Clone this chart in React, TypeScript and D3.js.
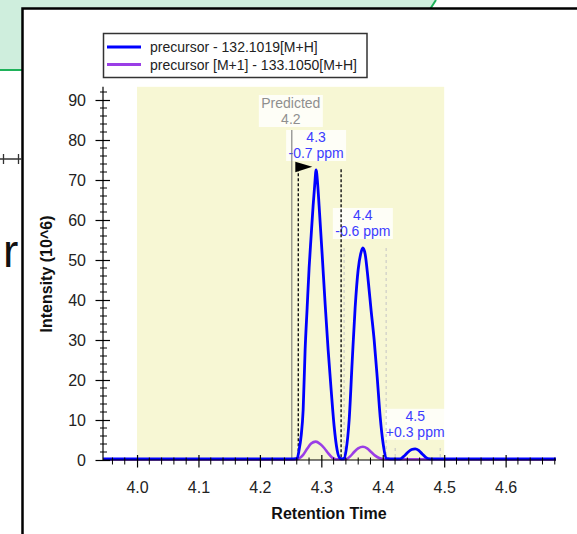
import { useEffect, useRef } from "react";
import * as d3 from "d3";

// chromatogram traces (retention time, intensity 10^6)
const blueTimes = [
  3.945, 4.255, 4.2606, 4.2638, 4.2671, 4.2704, 4.2736, 4.2769, 4.2801, 4.2834,
  4.2866, 4.2891, 4.2915, 4.294, 4.2964, 4.3013, 4.3062, 4.3111, 4.316, 4.3208,
  4.3257, 4.3306, 4.3339, 4.3371, 4.3404, 4.3453, 4.3502, 4.355, 4.3599, 4.364,
  4.3676, 4.3713, 4.3762, 4.3811, 4.386, 4.3909, 4.3958, 4.4007, 4.4055, 4.412,
  4.4283, 4.4349, 4.4414, 4.4471, 4.4528, 4.4585, 4.4642, 4.4691, 4.4739, 4.4805,
  4.682,
];
const blueValues = [
  0.3, 0.3, 0.4, 2.5, 6, 12.5, 27.5, 38, 48, 56,
  63.5, 68.5, 72.5, 69, 63.5, 51.5, 39, 27.5, 17.5, 8.5,
  2.5, 0.4, 0.3, 0.4, 2.5, 10, 24.5, 38, 47.5, 51.5,
  53, 51.5, 45, 37.3, 30, 20.8, 10.8, 4, 0.4, 0.3,
  0.3, 1.0, 2.0, 2.6, 2.8, 2.4, 1.5, 0.8, 0.35, 0.3,
  0.3,
];
const purpleTimes = [
  3.945, 4.258, 4.2638, 4.2704, 4.2769, 4.2834, 4.291, 4.2981, 4.3046, 4.3111,
  4.3176, 4.3241, 4.3404, 4.3469, 4.3534, 4.3599, 4.3676, 4.3746, 4.3811, 4.3876,
  4.3941, 4.4023, 4.682,
];
const purpleValues = [
  0.15, 0.15, 0.4, 1.3, 2.8, 4.1, 4.6, 4.0, 3.0, 1.7,
  0.6, 0.2, 0.2, 0.9, 2.0, 2.9, 3.3, 2.9, 2.0, 1.1,
  0.5, 0.2, 0.15,
];

const seriesNames = ["precursor - 132.1019[M+H]", "precursor [M+1] - 133.1050[M+H]"];
const seriesColors = ["#0000ff", "#9a3ee6"];

const xMajorTicks = [4.0, 4.1, 4.2, 4.3, 4.4, 4.5, 4.6];
const yMajorTicks = [0, 10, 20, 30, 40, 50, 60, 70, 80, 90];

// peak annotations
const peakTimes = [4.2915, 4.3676, 4.4528];
const peakValues = [72.5, 53, 2.8];
const peakRT = ["4.3", "4.4", "4.5"];
const peakPpm = ["-0.7 ppm", "-0.6 ppm", "+0.3 ppm"];

const integratedBounds = [4.2625, 4.3322];
const integratedTops = [74.2, 72.7];
const otherBounds = [4.3371, 4.4055, 4.4202, 4.4935];
const otherTops = [53, 53, 3, 3];

const predictedTime = 4.252;
const predictedLabel = ["Predicted", "4.2"];
const highlightRange = [4.0, 4.5];

const FONT = "'Liberation Sans', Arial, sans-serif";

export default function App() {
  const svgRef = useRef(null);

  useEffect(() => {
    const svg = d3.select(svgRef.current);
    svg.selectAll("*").remove();

    const x = d3.scaleLinear().domain([3.9446, 4.682]).range([103, 556]);
    const y = d3.scaleLinear().domain([0, 93.3]).range([460, 86.8]);

    // surrounding window bits
    svg.append("path")
      .attr("d", "M0,0 H436 L430.5,8.5 H22 V70 H0 Z")
      .attr("fill", "#cfeedd");
    svg.append("path").attr("d", "M0,70 H22").attr("stroke", "#1fb25a").attr("stroke-width", 2);
    svg.append("path").attr("d", "M436,0 L430.5,8.5").attr("stroke", "#1fb25a").attr("stroke-width", 2);
    svg.append("path").attr("d", "M22.5,534 V8.5 H577").attr("fill", "none")
      .attr("stroke", "#000").attr("stroke-width", 2.5);
    svg.append("path").attr("d", "M0,159 H22 M3.5,154 V164 M18.5,154 V164")
      .attr("stroke", "#333").attr("stroke-width", 1.3);
    svg.append("text").attr("x", 3).attr("y", 267).text("r")
      .style("font-family", FONT).style("font-size", "46px").attr("fill", "#111");

    // highlighted window
    svg.append("rect")
      .attr("x", x(highlightRange[0])).attr("y", y.range()[1])
      .attr("width", x(highlightRange[1]) - x(highlightRange[0]))
      .attr("height", y(0) - y.range()[1])
      .attr("fill", "#f7f7d4");

    // predicted label
    const px = x(predictedTime);
    svg.append("rect").attr("x", px - 33).attr("y", 95).attr("width", 64).attr("height", 32)
      .attr("fill", "#fff").attr("opacity", 0.8);
    predictedLabel.forEach((t, i) => {
      svg.append("text").attr("x", px - 1).attr("y", 103 + i * 15.5).attr("dy", "0.36em")
        .attr("text-anchor", "middle").text(t)
        .style("font-family", FONT).style("font-size", "14px").attr("fill", "#8f8f8f");
    });

    // peak labels
    peakTimes.forEach((t, i) => {
      const cx = x(t), cy = y(peakValues[i]);
      svg.append("rect").attr("x", cx - 30).attr("y", cy - 40).attr("width", 60).attr("height", 31)
        .attr("fill", "#fff").attr("opacity", 0.82);
      svg.append("text").attr("x", cx).attr("y", cy - 33).attr("dy", "0.36em")
        .attr("text-anchor", "middle").text(peakRT[i])
        .style("font-family", FONT).style("font-size", "14px").attr("fill", "#3c3cff");
      svg.append("text").attr("x", cx).attr("y", cy - 17).attr("dy", "0.36em")
        .attr("text-anchor", "middle").text(peakPpm[i])
        .style("font-family", FONT).style("font-size", "14px").attr("fill", "#3c3cff");
    });

    // predicted line
    svg.append("line").attr("x1", px).attr("x2", px).attr("y1", 130).attr("y2", y(0))
      .attr("stroke", "#6f6f6f").attr("stroke-width", 1);

    // boundaries of other peaks
    otherBounds.forEach((t, i) => {
      svg.append("line").attr("x1", x(t)).attr("x2", x(t)).attr("y1", y(otherTops[i])).attr("y2", y(0))
        .attr("stroke", "#c4c4c4").attr("stroke-width", 1).attr("stroke-dasharray", "3,3");
    });
    // integration boundaries
    integratedBounds.forEach((t, i) => {
      svg.append("line").attr("x1", x(t)).attr("x2", x(t)).attr("y1", y(integratedTops[i])).attr("y2", y(0))
        .attr("stroke", "#111").attr("stroke-width", 1.4).attr("stroke-dasharray", "3,2");
    });

    // traces
    const line = (times, values) => d3.line()
      .x((d, i) => x(times[i]))
      .y((d) => y(d))
      .curve(d3.curveMonotoneX)(values);
    svg.append("path").attr("d", line(purpleTimes, purpleValues)).attr("fill", "none")
      .attr("stroke", seriesColors[1]).attr("stroke-width", 2.6).attr("stroke-linejoin", "round");
    svg.append("path").attr("d", line(blueTimes, blueValues)).attr("fill", "none")
      .attr("stroke", seriesColors[0]).attr("stroke-width", 2.8).attr("stroke-linejoin", "round");

    // flag at the peak start
    const fx = x(integratedBounds[0]), fy = y(integratedTops[0]);
    svg.append("polygon")
      .attr("points", `${fx - 3},${fy - 1.5} ${fx + 14},${fy + 3.5} ${fx - 3},${fy + 9}`)
      .attr("fill", "#000");

    // x axis
    const xMinor = d3.range(3.96, 4.681, 0.02).filter((v) => Math.abs(v * 10 - Math.round(v * 10)) > 0.01);
    const gx = svg.append("g").attr("transform", `translate(0,${y(0)})`);
    gx.append("line").attr("x1", x.range()[0]).attr("x2", x.range()[1]).attr("stroke", "#000").attr("stroke-width", 1.2);
    gx.selectAll("line.minor").data(xMinor).join("line").classed("minor", true)
      .attr("x1", (d) => x(d)).attr("x2", (d) => x(d)).attr("y1", -2.5).attr("y2", 4.5)
      .attr("stroke", "#000").attr("stroke-width", 1);
    gx.call(d3.axisBottom(x).tickValues(xMajorTicks).tickFormat(d3.format(".1f")).tickSize(7.5));
    gx.select(".domain").remove();
    gx.selectAll(".tick line").attr("y1", -5).attr("stroke-width", 1.2);
    gx.selectAll(".tick text").attr("y", 32.5).attr("dy", "0")
      .style("font-family", FONT).style("font-size", "16px").attr("fill", "#222");

    // y axis
    const yMinor = d3.range(2, 93, 2).filter((v) => v % 10 !== 0);
    const gy = svg.append("g").attr("transform", `translate(${x.range()[0]},0)`);
    gy.append("line").attr("y1", y.range()[0]).attr("y2", y.range()[1]).attr("stroke", "#000").attr("stroke-width", 1.2);
    gy.selectAll("line.minor").data(yMinor).join("line").classed("minor", true)
      .attr("y1", (d) => y(d)).attr("y2", (d) => y(d)).attr("x1", -3).attr("x2", 4)
      .attr("stroke", "#000").attr("stroke-width", 1);
    gy.call(d3.axisLeft(y).tickValues(yMajorTicks).tickFormat(d3.format("d")).tickSize(7.5));
    gy.select(".domain").remove();
    gy.selectAll(".tick line").attr("x1", 7).attr("stroke-width", 1.2);
    gy.selectAll(".tick text").attr("x", -17).attr("dy", "0.36em")
      .style("font-family", FONT).style("font-size", "16px").attr("fill", "#222");

    // axis titles
    svg.append("text").attr("x", 329).attr("y", 513).attr("dy", "0.36em").attr("text-anchor", "middle")
      .text("Retention Time").style("font-family", FONT).style("font-size", "16px")
      .style("font-weight", "bold").attr("fill", "#111");
    svg.append("text").attr("transform", "translate(46,274) rotate(-90)").attr("dy", "0.36em")
      .attr("text-anchor", "middle").text("Intensity (10^6)")
      .style("font-family", FONT).style("font-size", "16px").style("font-weight", "bold").attr("fill", "#111");

    // legend
    const lg = svg.append("g");
    lg.append("rect").attr("x", 103.5).attr("y", 33.5).attr("width", 263.5).attr("height", 44)
      .attr("fill", "#fff").attr("stroke", "#333").attr("stroke-width", 1.5);
    seriesNames.forEach((name, i) => {
      const ly = 47 + i * 17.5;
      lg.append("line").attr("x1", 107).attr("x2", 141).attr("y1", ly).attr("y2", ly)
        .attr("stroke", seriesColors[i]).attr("stroke-width", 3);
      lg.append("text").attr("x", 150).attr("y", ly).attr("dy", "0.36em").text(name)
        .style("font-family", FONT).style("font-size", "14px").attr("fill", "#222");
    });
  }, []);

  return (
    <svg
      ref={svgRef}
      width={577}
      height={534}
      style={{ position: "absolute", left: 0, top: 0, background: "#fff" }}
    />
  );
}
